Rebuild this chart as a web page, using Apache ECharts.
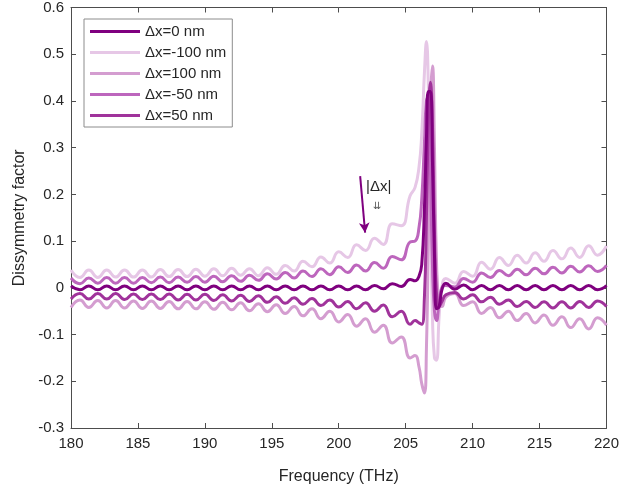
<!DOCTYPE html>
<html>
<head>
<meta charset="utf-8">
<script src="https://cdn.jsdelivr.net/npm/echarts@6/dist/echarts.min.js"></script>
<style>
  html, body { margin: 0; padding: 0; background: #fff; }
  #chart { width: 622px; height: 490px; }
</style>
</head>
<body>
<div id="chart"></div>
<script>
  // frequency samples (THz), denser around the resonance
  const freq = [180, 180.67, 181.33, 182, 182.67, 183.33, 184, 184.67, 185.33, 186, 186.67, 187.33, 188, 188.67, 189.33, 190,
    190.67, 191.33, 192, 192.67, 193.33, 194, 194.67, 195.33, 196, 196.67, 197.33, 198, 198.67, 199.33, 200, 200.67, 201.33,
    202, 202.67, 203.33, 204, 204.67, 205.33,
    205.7, 206.0, 206.2, 206.4, 206.55, 206.7, 206.85, 207.0, 207.15, 207.3, 207.5, 207.7, 208.0,
    208.67, 209.33, 210, 210.67, 211.33, 212, 212.67, 213.33, 214, 214.67, 215.33, 216, 216.67, 217.33, 218, 218.67, 219.33, 220];

  const g0 = [0.004, -0.004, 0.004, -0.004, 0.004, -0.004, 0.004, -0.004, 0.004, -0.004, 0.004, -0.004, 0.004, -0.004, 0.004, -0.004,
    0.004, -0.004, 0.004, -0.004, 0.004, -0.004, 0.004, -0.004, 0.004, -0.004, 0.004, -0.004, 0.004, -0.004, 0.004, -0.004, 0.004,
    -0.004, 0.005, -0.002, 0.009, 0.003, 0.018,
    0.015, 0.025, 0.05, 0.17, 0.32, 0.42, 0.42, 0.27, 0.07, -0.045, -0.04, -0.005, 0.01,
    -0.003, 0.006, -0.004, 0.005, -0.004, 0.005, -0.004, 0.005, -0.004, 0.005, -0.004, 0.005, -0.004, 0.005, -0.004, 0.005, -0.004, 0.005];

  const gM100 = [0.038, 0.022, 0.038, 0.022, 0.038, 0.023, 0.038, 0.023, 0.038, 0.023, 0.039, 0.024, 0.039, 0.024, 0.040, 0.025,
    0.041, 0.026, 0.042, 0.027, 0.041, 0.026, 0.043, 0.029, 0.048, 0.036, 0.057, 0.045, 0.066, 0.053, 0.077, 0.065, 0.092,
    0.080, 0.106, 0.093, 0.137, 0.133, 0.197,
    0.215, 0.26, 0.33, 0.46, 0.527, 0.42, 0.17, -0.06, -0.15, -0.155, -0.06, 0.0, 0.02,
    0.010, 0.035, 0.025, 0.055, 0.040, 0.065, 0.048, 0.070, 0.053, 0.075, 0.057, 0.080, 0.062, 0.085, 0.065, 0.090, 0.070, 0.090];

  const gP100 = [-0.042, -0.026, -0.042, -0.027, -0.043, -0.027, -0.043, -0.028, -0.044, -0.028, -0.044, -0.029, -0.045, -0.029, -0.045, -0.030,
    -0.046, -0.031, -0.047, -0.032, -0.049, -0.034, -0.051, -0.036, -0.055, -0.040, -0.060, -0.045, -0.066, -0.050, -0.073, -0.057, -0.082,
    -0.066, -0.095, -0.080, -0.118, -0.105, -0.150,
    -0.145, -0.17, -0.205, -0.225, -0.13, 0.12, 0.40, 0.475, 0.30, 0.06, -0.035, -0.04, -0.02,
    -0.012, -0.038, -0.030, -0.055, -0.042, -0.064, -0.050, -0.070, -0.055, -0.075, -0.058, -0.080, -0.062, -0.085, -0.066, -0.088, -0.064, -0.080];

  const gM50 = [0.021, 0.009, 0.021, 0.010, 0.022, 0.010, 0.022, 0.010, 0.022, 0.011, 0.023, 0.011, 0.023, 0.012, 0.024, 0.012,
    0.025, 0.013, 0.026, 0.014, 0.027, 0.016, 0.030, 0.019, 0.033, 0.021, 0.036, 0.024, 0.041, 0.028, 0.045, 0.033, 0.049,
    0.036, 0.054, 0.042, 0.067, 0.060, 0.098,
    0.10, 0.13, 0.19, 0.31, 0.40, 0.41, 0.25, 0.05, -0.05, -0.07, -0.03, 0.0, 0.005,
    0.002, 0.020, 0.012, 0.032, 0.022, 0.037, 0.026, 0.040, 0.028, 0.042, 0.030, 0.044, 0.032, 0.046, 0.034, 0.047, 0.035, 0.048];

  const gP50 = [-0.024, -0.012, -0.024, -0.012, -0.024, -0.012, -0.025, -0.013, -0.025, -0.013, -0.025, -0.013, -0.026, -0.014, -0.026, -0.014,
    -0.027, -0.015, -0.028, -0.016, -0.029, -0.017, -0.031, -0.019, -0.033, -0.021, -0.035, -0.023, -0.038, -0.026, -0.041, -0.029, -0.045,
    -0.032, -0.050, -0.037, -0.062, -0.050, -0.078,
    -0.07, -0.075, -0.078, -0.02, 0.15, 0.36, 0.44, 0.35, 0.12, -0.01, -0.04, -0.03, -0.015,
    -0.010, -0.024, -0.015, -0.030, -0.020, -0.035, -0.026, -0.040, -0.029, -0.042, -0.030, -0.043, -0.030, -0.043, -0.029, -0.042, -0.028, -0.040];

  const legendNames = ['\u0394x=0 nm', '\u0394x=-100 nm', '\u0394x=100 nm', '\u0394x=-50 nm', '\u0394x=50 nm'];
  const xTicks = [180, 185, 190, 195, 200, 205, 210, 215, 220];

  const fontFam = '"Liberation Sans", Arial, sans-serif';
  const axisColor = '#4d4d4d';
  const textColor = '#262626';

  function mkSeries(name, vals, color, z) {
    return {
      name: name,
      type: 'line',
      smooth: 0.5,
      showSymbol: false,
      symbol: 'none',
      z: z,
      lineStyle: { width: 3, color: color },
      itemStyle: { color: color },
      data: freq.map((f, i) => [f, vals[i]])
    };
  }

  // drawing order: the light ones first, Δx=0 on top
  let series = [
    mkSeries(legendNames[1], gM100, '#e6c7e6', 2),
    mkSeries(legendNames[2], gP100, '#d49dd0', 3),
    mkSeries(legendNames[3], gM50, '#bd66bd', 4),
    mkSeries(legendNames[4], gP50, '#a0339b', 5),
    mkSeries(legendNames[0], g0, '#7f007f', 6)
  ];
  // arrow pointing at decreasing |Δx|
  series[4].markLine = {
    silent: true,
    symbol: ['none', 'arrow'],
    symbolSize: [8, 10],
    label: { show: false },
    lineStyle: { color: '#7f007f', width: 2, type: 'solid' },
    data: [[{ coord: [201.6, 0.239] }, { coord: [201.97, 0.118] }]]
  };

  // box axes (top / right): line + inward ticks only
  const hiddenAxis = {
    axisLabel: { show: false },
    axisLine: { show: true, onZero: false, lineStyle: { color: axisColor, width: 1 } },
    axisTick: { show: true, inside: true, length: 5, lineStyle: { color: axisColor } },
    splitLine: { show: false }
  };

  let option = {
    backgroundColor: '#fff',
    animation: false,
    textStyle: { fontFamily: fontFam },
    grid: { left: 71, right: 14, top: 6, bottom: 60 },
    legend: {
      data: legendNames,
      orient: 'vertical',
      left: 84,
      top: 19,
      icon: 'rect',
      itemWidth: 50,
      itemHeight: 3,
      itemGap: 6,
      padding: [5, 6, 4, 6],
      backgroundColor: '#fff',
      borderColor: '#8c8c8c',
      borderWidth: 1,
      textStyle: { fontSize: 15, color: textColor, fontFamily: fontFam }
    },
    xAxis: [{
      type: 'value',
      min: 180,
      max: 220,
      interval: 5,
      name: 'Frequency (THz)',
      nameLocation: 'middle',
      nameGap: 41,
      nameTextStyle: { fontSize: 16, color: textColor },
      axisLine: { show: true, onZero: false, lineStyle: { color: axisColor, width: 1 } },
      axisTick: { show: true, inside: true, length: 5, lineStyle: { color: axisColor } },
      axisLabel: { fontSize: 15, color: textColor, margin: 8, formatter: v => xTicks.indexOf(v) >= 0 ? String(v) : '' },
      splitLine: { show: false }
    }, Object.assign({ type: 'value', position: 'top', min: 180, max: 220, interval: 5 }, hiddenAxis)],
    yAxis: [{
      type: 'value',
      min: -0.3,
      max: 0.6,
      interval: 0.1,
      name: 'Dissymmetry factor',
      nameLocation: 'middle',
      nameGap: 37,
      nameTextStyle: { fontSize: 16, color: textColor },
      axisLine: { show: true, onZero: false, lineStyle: { color: axisColor, width: 1 } },
      axisTick: { show: true, inside: true, length: 5, lineStyle: { color: axisColor } },
      axisLabel: { fontSize: 15, color: textColor, margin: 7, formatter: v => String(+v.toFixed(1)) },
      splitLine: { show: false }
    }, Object.assign({ type: 'value', position: 'right', min: -0.3, max: 0.6, interval: 0.1 }, hiddenAxis)],
    graphic: [{
      type: 'text',
      left: 366,
      top: 179,
      style: { text: '|\u0394x|', fontSize: 15, fill: textColor, fontFamily: fontFam }
    }, {
      type: 'text',
      left: 373,
      top: 201,
      style: { text: '\u21ca', fontSize: 10, fill: '#555', fontFamily: '"DejaVu Sans", sans-serif' }
    }],
    series: series
  };

  let echartDom = echarts.init(document.getElementById('chart'));
  echartDom.setOption(option);
</script>
</body>
</html>
